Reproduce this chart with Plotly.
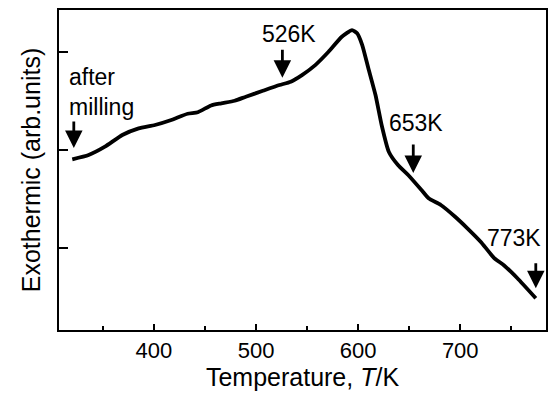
import plotly.graph_objects as go

# Temperature (K) and exothermic signal (arb. units)
temperature = [320, 336, 352, 369, 385, 401, 417, 433, 443, 456, 466, 479, 490, 506,
               523, 534, 545, 558, 571, 584, 594, 599, 604, 610, 617, 623, 630, 639,
               649, 662, 669, 681, 695, 707, 720, 733, 743, 756, 774]
signal = [0.905, 0.949, 1.034, 1.153, 1.221, 1.255, 1.306, 1.370, 1.385, 1.455, 1.477,
          1.503, 1.544, 1.602, 1.663, 1.697, 1.765, 1.867, 2.003, 2.156, 2.224, 2.191,
          2.071, 1.834, 1.561, 1.255, 0.983, 0.847, 0.745, 0.592, 0.507, 0.439, 0.319,
          0.201, 0.064, -0.100, -0.178, -0.309, -0.513]

# Arrows marking sampled temperatures
arrow_T = [321.5, 525.8, 654, 774]
arrow_tail = [1.306, 2.038, 1.071, -0.14]
arrow_tip = [1.02, 1.738, 0.765, -0.411]

# Labels
label_text = ["after<br>milling", "526K", "653K", "773K"]
label_T = [315.3, 532.6, 656.2, 753]
label_y = [1.59, 2.186, 1.272, 0.107]
label_anchor = ["left", "center", "center", "center"]

x_ticks = [400, 500, 600, 700]
y_ticks = [0, 1, 2]

FONT = "Liberation Sans, Arial, Helvetica, sans-serif"

fig = go.Figure()
fig.add_trace(go.Scatter(
    x=temperature, y=signal, mode="lines",
    line=dict(color="black", width=3.8, shape="spline", smoothing=0.5),
    showlegend=False,
))

for xt, ya, yb in zip(arrow_T, arrow_tail, arrow_tip):
    fig.add_annotation(
        x=xt, y=yb, ax=xt, ay=ya, xref="x", yref="y", axref="x", ayref="y",
        text="", showarrow=True, arrowhead=2, arrowsize=1.25, arrowwidth=2.8,
        arrowcolor="black", standoff=0, startstandoff=0,
    )

for t, xt, yt, anc in zip(label_text, label_T, label_y, label_anchor):
    fig.add_annotation(
        x=xt, y=yt, xref="x", yref="y", text=t, showarrow=False,
        xanchor=anc, yanchor="middle", align="left",
        font=dict(family=FONT, size=23, color="black"),
    )

fig.update_layout(
    width=549, height=394,
    margin=dict(l=59, r=1, t=10, b=64),
    paper_bgcolor="white", plot_bgcolor="white",
    font=dict(family=FONT, color="black"),
)
fig.update_xaxes(
    range=[307, 784], tickvals=x_ticks, ticks="inside", ticklen=6, tickwidth=1.5,
    tickcolor="black", showline=True, linecolor="black", linewidth=1.5, mirror=True,
    showgrid=False, zeroline=False, tickfont=dict(size=22, family=FONT),
    minor=dict(tickvals=[350, 450, 550, 650, 750], ticks="inside", ticklen=4,
               tickwidth=1.5, tickcolor="black", showgrid=False),
    title=dict(text="Temperature, <i>T</i>/K", font=dict(size=25, family=FONT), standoff=4),
)
fig.update_yaxes(
    range=[-0.837, 2.429], tickvals=y_ticks, showticklabels=False, ticks="inside",
    ticklen=9, tickwidth=1.5, tickcolor="black", showline=True, linecolor="black",
    linewidth=1.5, mirror=True, showgrid=False, zeroline=False,
    title=dict(text="Exothermic (arb.units)", font=dict(size=25, family=FONT), standoff=10),
)

fig.write_html("out.html")
